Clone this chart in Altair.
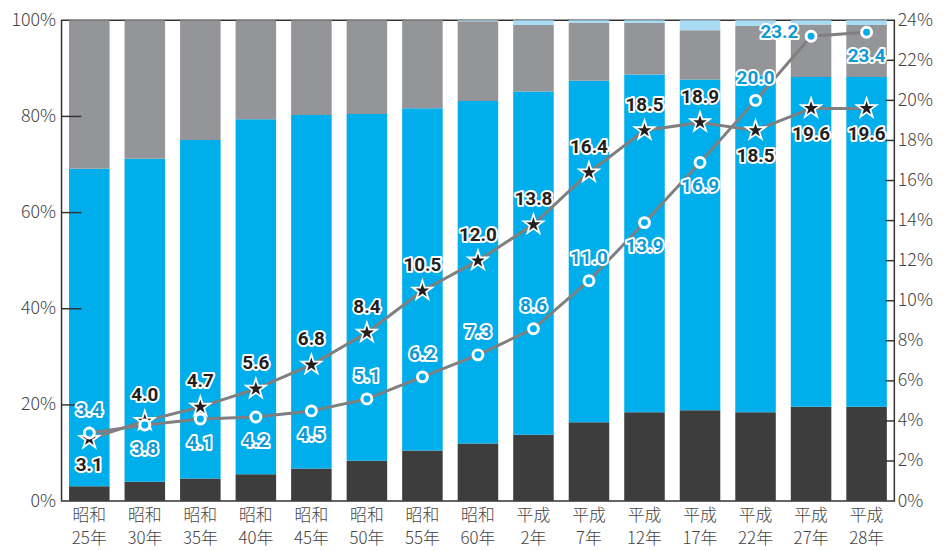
import altair as alt
import pandas as pd

# ---- data ----
cats = ["昭和25年", "昭和30年", "昭和35年", "昭和40年", "昭和45年", "昭和50年", "昭和55年",
        "昭和60年", "平成2年", "平成7年", "平成12年", "平成17年", "平成22年", "平成27年", "平成28年"]
seg_dark = [3.1, 4.0, 4.7, 5.6, 6.8, 8.4, 10.5, 12.0, 13.8, 16.4, 18.5, 18.9, 18.5, 19.6, 19.6]
seg_blue = [66.0, 67.2, 70.4, 73.8, 73.5, 72.1, 71.2, 71.2, 71.4, 71.0, 70.2, 68.8, 70.0, 68.6, 68.6]
seg_gray = [30.9, 28.8, 24.9, 20.6, 19.7, 19.5, 18.3, 16.6, 13.8, 12.0, 10.7, 10.2, 10.3, 10.9, 10.8]
seg_light = [0, 0, 0, 0, 0, 0, 0, 0.2, 1.0, 0.6, 0.6, 2.1, 1.2, 0.9, 1.0]

star_vals = [3.1, 4.0, 4.7, 5.6, 6.8, 8.4, 10.5, 12.0, 13.8, 16.4, 18.5, 18.9, 18.5, 19.6, 19.6]
circle_vals = [3.4, 3.8, 4.1, 4.2, 4.5, 5.1, 6.2, 7.3, 8.6, 11.0, 13.9, 16.9, 20.0, 23.2, 23.4]

left_ticks = [0, 20, 40, 60, 80, 100]
right_ticks = [0, 2, 4, 6, 8, 10, 12, 14, 16, 18, 20, 22, 24]

# label placement (layout only)
star_place = ["below"] + ["above"] * 11 + ["below", "below", "below"]
circle_place = ["above", "below", "below", "below", "below", "above", "above", "above", "above",
                "above", "below", "below", "above", "left", "below"]

# ---- tables ----
segs = [("dark", seg_dark), ("blue", seg_blue), ("gray", seg_gray), ("light", seg_light)]
rows = []
for i, c in enumerate(cats):
    start = 0.0
    for name, vals in segs:
        rows.append({"cat": c, "seg": name, "start": start, "end": start + vals[i]})
        start += vals[i]
bars_df = pd.DataFrame(rows)

star_df = pd.DataFrame({"cat": cats, "v": star_vals, "place": star_place})
circ_df = pd.DataFrame({"cat": cats, "v": circle_vals, "place": circle_place})

W, H = 840, 485
AX_FONT = "Noto Sans CJK JP"
LBL_FONT = "Roboto"
xscale = alt.Scale(paddingInner=0.27, paddingOuter=0.135)
lscale = alt.Scale(domain=[0, 100], nice=False)
rscale = alt.Scale(domain=[0, 24], nice=False)

x_axis = alt.Axis(labelExpr="[substring(datum.label,0,2), substring(datum.label,2)]",
                  labelAngle=0, ticks=False, domain=False, labelPadding=7,
                  labelFontSize=17, labelFont=AX_FONT, labelColor="#444444",
                  labelFontWeight=300, labelLineHeight=23, title=None)

def X():
    return alt.X("cat:N", sort=cats, scale=xscale, axis=x_axis, title=None)

l_axis = alt.Axis(values=left_ticks, labelExpr="datum.value + '%'", ticks=False,
                  domain=False, grid=False, labelPadding=6, labelFontSize=18,
                  labelFont=AX_FONT, labelColor="#444444", labelFontWeight=300,
                  orient="left", title=None)
r_axis = alt.Axis(values=right_ticks, labelExpr="datum.value + '%'", ticks=False,
                  domain=False, grid=False, labelPadding=3, labelFontSize=18,
                  labelFont=AX_FONT, labelColor="#444444", labelFontWeight=300,
                  orient="right", title=None)

bars = alt.Chart(bars_df).mark_bar().encode(
    x=X(),
    y=alt.Y("start:Q", scale=lscale, title=None, axis=l_axis),
    y2="end:Q",
    color=alt.Color("seg:N", legend=None,
                    scale=alt.Scale(domain=["dark", "blue", "gray", "light"],
                                    range=["#3d3d3d", "#00aeeb", "#949598", "#abdcf5"])),
)

lt = alt.Chart(pd.DataFrame({"v": left_ticks[1:-1]})).mark_rule(
    color="#333333", strokeWidth=1.5).encode(
    y=alt.Y("v:Q", scale=lscale, axis=l_axis, title=None), x=alt.value(0), x2=alt.value(20))

left = alt.layer(bars, lt)

star_path = ("M0,-1 L0.2245,-0.309 L0.951,-0.309 L0.363,0.118 L0.588,0.809 L0,0.382 "
             "L-0.588,0.809 L-0.363,0.118 L-0.951,-0.309 L-0.2245,-0.309 Z")

def YR():
    return alt.Y("v:Q", scale=rscale, axis=r_axis, title=None)

rt = alt.Chart(pd.DataFrame({"v": right_ticks[1:-1]})).mark_rule(
    color="#333333", strokeWidth=1.5).encode(
    y=YR(), x=alt.value(W - 9), x2=alt.value(W))

star_line = alt.Chart(star_df).mark_line(color="#7f7f7f", strokeWidth=3).encode(x=X(), y=YR())
circ_line = alt.Chart(circ_df).mark_line(color="#7f7f7f", strokeWidth=3).encode(x=X(), y=YR())
star_pts = alt.Chart(star_df).mark_point(shape=star_path, size=430, filled=True,
                                         fill="#231f20", stroke="white", strokeWidth=1.8,
                                         opacity=1).encode(x=X(), y=YR())
circ_pts = alt.Chart(circ_df).mark_point(shape="circle", size=100, filled=True,
                                         fill="#00aeef", stroke="white", strokeWidth=3,
                                         opacity=1).encode(x=X(), y=YR())

def labels(df, color, offsets):
    out = []
    for place, (dx, dy) in offsets.items():
        base = alt.Chart(df).transform_filter(alt.datum.place == place)
        enc = dict(x=X(), y=YR(), text=alt.Text("v:Q", format=".1f"))
        halo = base.mark_text(dx=dx, dy=dy, font=LBL_FONT, fontSize=19, fontWeight="bold",
                              color="white", stroke="white", strokeWidth=4,
                              strokeJoin="round").encode(**enc)
        fg = base.mark_text(dx=dx, dy=dy, font=LBL_FONT, fontSize=19, fontWeight="bold",
                            color=color).encode(**enc)
        out += [halo, fg]
    return out

star_lbl = labels(star_df, "#231f20", {"above": (0, -26), "below": (0, 26)})
circ_lbl = labels(circ_df, "#0f9ad6", {"above": (0, -23), "below": (0, 24), "left": (-32, -4)})

right = alt.layer(rt, star_line, circ_line, star_pts, circ_pts, *star_lbl, *circ_lbl)

chart = alt.layer(left, right).resolve_scale(y="independent").properties(
    width=W, height=H,
    padding={"left": 54, "top": 10, "right": 40, "bottom": 48},
    autosize=alt.AutoSizeParams(type="none"),
).configure_view(stroke="#333333", strokeWidth=1.5)

chart.save("out.html", embed_options={"renderer": "svg", "actions": False})
